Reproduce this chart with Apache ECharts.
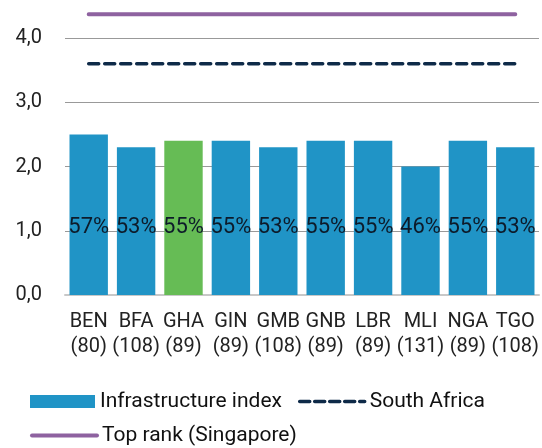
<!DOCTYPE html>
<html>
<head>
<meta charset="utf-8">
<script src="https://cdn.jsdelivr.net/npm/echarts@6/dist/echarts.min.js"></script>
<style>html,body{margin:0;padding:0;background:#fff}#c{width:542px;height:448px}</style>
</head>
<body>
<div id="c"></div>
<script>
const categories = ['BEN','BFA','GHA','GIN','GMB','GNB','LBR','MLI','NGA','TGO'];
const ranks = [80,108,89,89,108,89,89,131,89,108];
const infrastructureIndex = [2.5,2.3,2.4,2.4,2.3,2.4,2.4,2.0,2.4,2.3];
const percentShares = [57,53,55,55,53,55,55,46,55,53];
const southAfrica = [3.6,3.6,3.6,3.6,3.6,3.6,3.6,3.6,3.6,3.6];
const topRankSingapore = [4.37,4.37,4.37,4.37,4.37,4.37,4.37,4.37,4.37,4.37];
const yTicks = ['0,0','1,0','2,0','3,0','4,0'];
const highlightCategory = 'GHA';

const FONT = "Roboto, sans-serif";
const BLUE = '#2094C6', GREEN = '#66BC55', NAVY = '#0E2A48', PURPLE = '#8E62A0';

const chart = echarts.init(document.getElementById('c'), null, {renderer:'canvas'});
chart.setOption({
  animation: false,
  textStyle: {fontFamily: FONT},
  grid: {left: 65, right: 2, top: 6, bottom: 153, containLabel: false},
  xAxis: {
    type: 'category',
    data: categories.map((c,i) => c + '\n(' + ranks[i] + ')'),
    axisLine: {show: true, lineStyle: {color: '#c8c8c8', width: 2}},
    axisTick: {show: false},
    axisLabel: {fontFamily: FONT, fontSize: 20, color: '#222', lineHeight: 25, margin: 14, interval: 0}
  },
  yAxis: {
    type: 'value', min: 0, max: 4.5, interval: 1,
    axisLine: {show: false}, axisTick: {show: false},
    axisLabel: {
      fontFamily: FONT, fontSize: 20, color: '#222', margin: 23,
      formatter: v => { const i = Math.round(v); return (Math.abs(v - i) < 1e-9 && i < yTicks.length) ? yTicks[i] : ''; }
    },
    splitLine: {show: true, lineStyle: {color: ['#999','#999','#999','#999','#999','rgba(0,0,0,0)'], width: 1}}
  },
  legend: [
    {
      left: 25, top: 386, itemWidth: 65, itemHeight: 13, itemGap: 16,
      data: [
        {name: 'Infrastructure index', icon: 'rect'},
        {name: 'South Africa', itemStyle: {opacity: 0}, lineStyle: {width: 3.5, type: [10,5], cap: 'round', color: NAVY}}
      ],
      textStyle: {fontFamily: FONT, fontSize: 21, color: '#111'}
    },
    {
      left: 25, top: 420, itemWidth: 65, itemHeight: 13,
      data: [{name: 'Top rank (Singapore)', itemStyle: {opacity: 0}, lineStyle: {width: 4, cap: 'round', color: PURPLE}}],
      textStyle: {fontFamily: FONT, fontSize: 21, color: '#111'}
    }
  ],
  series: [
    {
      name: 'Infrastructure index', type: 'bar', barWidth: '81%',
      itemStyle: {color: BLUE},
      data: infrastructureIndex.map((v,i) => categories[i] === highlightCategory ? {value: v, itemStyle: {color: GREEN}} : v),
      label: {
        show: true, position: 'insideBottom', distance: 57,
        fontFamily: FONT, fontSize: 22, color: '#0d1b2a',
        formatter: p => percentShares[p.dataIndex] + '%'
      },
      z: 2
    },
    {
      name: 'South Africa', type: 'line', data: southAfrica, symbol: 'none',
      lineStyle: {color: NAVY, width: 3.5, type: [10,6], cap: 'round'},
      itemStyle: {color: NAVY}, z: 3
    },
    {
      name: 'Top rank (Singapore)', type: 'line', data: topRankSingapore, symbol: 'none',
      lineStyle: {color: PURPLE, width: 4, cap: 'round'},
      itemStyle: {color: PURPLE}, z: 3
    }
  ]
});
</script>
</body>
</html>
